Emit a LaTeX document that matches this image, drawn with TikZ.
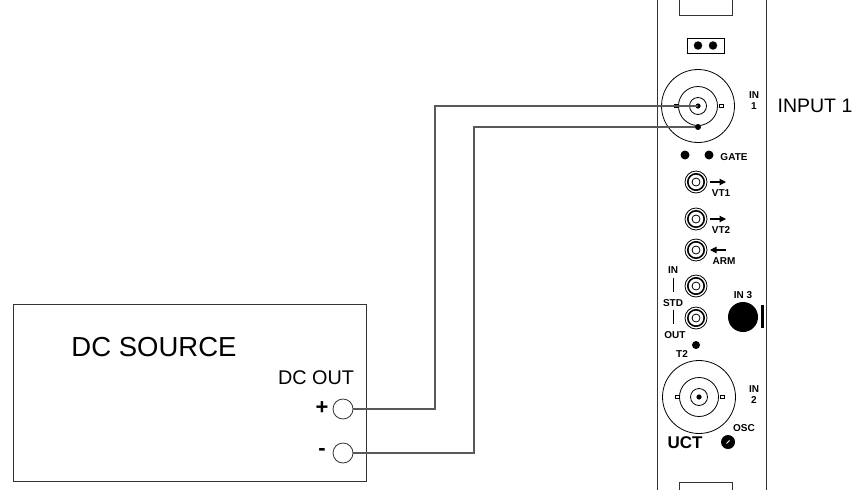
\documentclass[tikz,border=0pt]{standalone}
\usepackage{fontspec}
\setmainfont{Liberation Sans}
\usetikzlibrary{arrows.meta,calc}
\begin{document}
\begin{tikzpicture}[x=1pt,y=-1pt,
  edge/.style={draw=black!80,line width=0.9pt},
  wire/.style={draw=black!65,line width=1.1pt},
  lab/.style={font=\fontsize{10}{11}\selectfont\bfseries,inner sep=0},
  big/.style={inner sep=0},
  term/.style={circle,draw=black!80,line width=0.8pt,minimum size=20pt,inner sep=0},
  blk/.style={circle,fill=black,inner sep=0},
  tiny/.style={draw=black,line width=0.6pt,fill=white,minimum width=3.5pt,minimum height=3pt,inner sep=0},
  sarrow/.style={-{Triangle[length=6.5pt,width=6.5pt]},line width=1.1pt},
  jack/.pic={
    \draw[line width=0.8pt] (0,0) circle (11pt);
    \draw[line width=1.6pt] (0,0) circle (8.2pt);
    \draw[line width=0.8pt] (0,0) circle (4pt);
  },
  bnc/.pic={
    \draw[line width=0.8pt] (0,0) circle (36.5pt);
    \draw[line width=0.8pt] (0,0) circle (19.5pt);
    \draw[line width=0.8pt] (0,0) circle (8.5pt);
    \fill (0,0) circle (2.6pt);
    \node[tiny] at (-21.5,0) {};
    \node[tiny] at (23.5,0) {};
  }]
\useasboundingbox (0,0) rectangle (858,490);
% ---- module panel ----
\draw[edge] (657,0) -- (657,490);
\draw[edge] (766,0) -- (766,490);
\draw[edge] (679,0) -- (679,15) -- (732,15) -- (732,0);
\draw[edge] (679,490) -- (679,482) -- (732,482) -- (732,490);
% jumper
\node[draw=black,line width=0.9pt,minimum width=37pt,minimum height=15pt,inner sep=0] (jmp) at (705.5,45.5) {};
\node[blk,minimum size=8.5pt] (j1) at (698,45.5) {};
\node[blk,minimum size=8.5pt] (j2) at (713,45.5) {};
% BNC 1
\coordinate (bnc1) at (698,106);
\pic at (bnc1) {bnc};
\node[blk,minimum size=6pt] (gnd1) at (698,127) {};
\node[lab] (in1a) at (754,95) {IN};
\node[lab] (in1b) at (754,106.5) {1};
\node[big,font=\fontsize{19.5}{22}\selectfont] (input1) at (815,106) {INPUT 1};
% gate
\node[blk,minimum size=9pt] (g1) at (685,155) {};
\node[blk,minimum size=9pt] (g2) at (709,155) {};
\node[lab] (gate) at (734,157) {GATE};
% jacks
\coordinate (vt1) at (696,182);
\pic at (vt1) {jack};
\draw[sarrow] (710,182) -- (726,182);
\node[lab] (vt1l) at (721,193) {VT1};
\coordinate (vt2) at (696,219);
\pic at (vt2) {jack};
\draw[sarrow] (710,219) -- (726,219);
\node[lab] (vt2l) at (721,230) {VT2};
\coordinate (arm) at (696,250);
\pic at (arm) {jack};
\draw[sarrow] (726,250) -- (710,250);
\node[lab] (arml) at (724,261) {ARM};
\coordinate (stdin) at (696,286);
\pic at (stdin) {jack};
\coordinate (stdout) at (696,318);
\pic at (stdout) {jack};
\node[lab] (inl) at (673,270) {IN};
\node[lab] (stdl) at (673,303) {STD};
\node[lab] (outl) at (675,335) {OUT};
\draw[line width=0.8pt] (inl.south |- 0,278) -- (inl.south |- 0,292);
\draw[line width=0.8pt] (stdl.south |- 0,310) -- (stdl.south |- 0,324);
% IN 3
\node[lab] (in3l) at (743,295) {IN 3};
\node[blk,minimum size=30pt] (in3) at (743,317) {};
\node[draw=black,line width=0.8pt,fill=black,minimum width=2.5pt,minimum height=22pt,inner sep=0] (in3bar) at (762.5,316) {};
% T2 and BNC 2
\node[blk,minimum size=8pt] (t2dot) at (696,345) {};
\node[lab] (t2) at (682,354) {T2};
\coordinate (bnc2) at (699,397);
\pic at (bnc2) {bnc};
\node[lab] (in2a) at (754,389) {IN};
\node[lab] (in2b) at (754,400) {2};
\node[lab] (osc) at (744,428) {OSC};
\node[blk,minimum size=14pt] (knob) at (728,442) {};
\draw[white,line width=0.8pt] (726.5,443.5) -- (729.5,440.5);
\node[inner sep=0,font=\fontsize{17}{18}\selectfont\bfseries] (uct) at (685,443) {UCT};
% ---- DC source ----
\node[draw=black!80,line width=0.9pt,minimum width=353pt,minimum height=177pt,inner sep=0] (src) at (189.5,392.5) {};
\node[big,font=\fontsize{27.5}{30}\selectfont] (srcl) at (154,347) {DC SOURCE};
\node[big,font=\fontsize{19.8}{22}\selectfont] (dcout) at (316,377.5) {DC OUT};
\node[term] (plus) at (343,409) {};
\node[term] (minus) at (343,453) {};
\node[big,font=\fontsize{22}{24}\selectfont\bfseries] (plusl) at (322,408) {+};
\node[big,font=\fontsize{22}{24}\selectfont\bfseries] (minusl) at (322,452) {-};
% ---- wires ----
\coordinate (k1) at (435,106);
\coordinate (k2) at (474,127);
\draw[wire] (plus.east) -- (plus.east -| k1) -- (k1) -- (bnc1);
\draw[wire] (minus.east) -- (minus.east -| k2) -- (k2) -- (gnd1);
\end{tikzpicture}
\end{document}
